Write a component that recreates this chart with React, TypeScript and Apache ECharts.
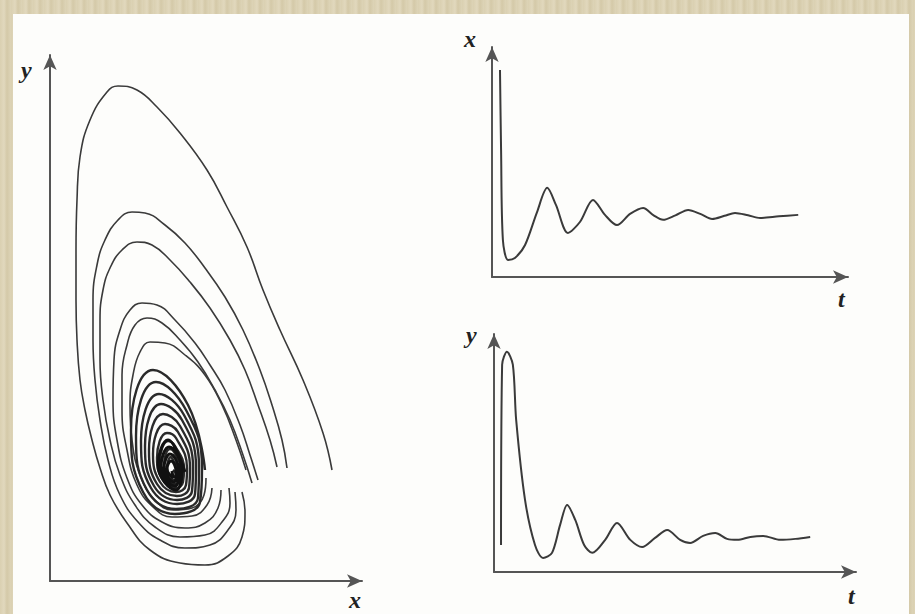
import React, { useEffect, useRef } from "react";
import * as echarts from "echarts";

// Phase portrait (prey x, predator y) — trajectories
const traj1: number[][] = [
  [28.2, 11.1], [27.3, 14.8], [25.3, 20.1], [23.0, 25.1], [21.3, 29.1], [19.7, 33.4],
  [17.7, 37.4], [15.7, 41.1], [13.0, 44.8], [10.7, 47.4], [8.7, 49.1], [6.8, 49.5],
  [5.7, 48.9], [4.0, 46.1], [3.0, 42.4], [2.7, 38.1], [2.6, 33.1], [2.6, 28.1],
  [2.7, 24.1], [3.0, 20.1], [3.5, 17.1], [4.2, 14.1], [5.0, 11.3], [6.0, 8.6],
  [7.7, 5.8], [10.0, 3.1], [13.0, 1.8], [15.5, 1.6], [17.8, 2.5], [19.2, 4.4],
  [19.5, 6.9], [19.2, 8.9],
];
const traj2: number[][] = [
  [23.7, 11.3], [23.2, 14.1], [22.2, 17.6], [21.0, 21.1], [19.3, 25.1], [17.5, 28.4],
  [15.5, 31.3], [13.5, 33.8], [11.5, 35.6], [9.5, 36.8], [8.2, 36.9], [6.8, 36.1],
  [5.5, 34.1], [4.7, 31.6], [4.3, 28.1], [4.3, 24.1], [4.5, 20.1], [5.0, 16.1],
  [5.8, 12.1], [7.0, 8.6], [8.8, 5.9], [11.0, 4.1], [13.5, 3.3], [16.0, 3.6],
  [17.8, 5.1], [18.6, 7.1], [18.5, 8.9],
];
const traj3: number[][] = [
  [22.7, 11.4], [22.0, 14.1], [20.8, 17.6], [19.5, 21.1], [18.0, 24.1], [16.0, 27.3],
  [14.0, 29.9], [12.0, 32.1], [10.2, 33.6], [8.7, 33.9], [7.2, 33.1], [6.0, 31.3],
  [5.3, 29.1], [5.0, 26.1], [5.0, 22.1], [5.3, 18.1], [6.0, 14.1], [7.0, 10.6],
  [8.5, 7.6], [10.5, 5.4], [13.0, 4.4], [15.5, 4.6], [17.2, 5.9], [18.0, 7.8],
  [17.9, 9.3],
];
const traj4: number[][] = [
  [20.8, 10.1], [20.0, 12.6], [19.0, 15.6], [17.5, 19.1], [16.0, 21.6], [14.5, 23.8],
  [12.5, 26.1], [10.7, 27.6], [9.2, 27.8], [8.0, 27.1], [7.0, 25.1], [6.4, 22.1],
  [6.3, 18.1], [6.7, 14.1], [7.7, 10.3], [9.2, 7.6], [11.2, 5.9], [13.5, 5.3],
  [15.5, 5.8], [16.8, 7.3], [17.1, 9.1],
];
const traj5: number[][] = [
  [20.2, 9.8], [19.3, 12.6], [18.0, 16.1], [16.5, 19.1], [14.8, 21.9], [13.0, 24.1],
  [11.2, 25.8], [9.7, 26.3], [8.5, 25.6], [7.7, 23.6], [7.2, 20.6], [7.2, 17.1],
  [7.7, 13.1], [8.7, 9.6], [10.3, 7.4], [12.2, 6.4], [14.2, 6.5], [15.7, 7.6],
  [16.2, 9.3],
];
const traj6: number[][] = [
  [19.6, 11.1], [18.6, 14.1], [17.2, 17.6], [15.5, 20.6], [13.5, 22.6], [11.5, 23.8],
  [10.0, 23.9], [9.0, 22.9], [8.3, 20.6], [8.0, 17.6], [8.2, 14.1], [9.0, 10.6],
  [10.5, 8.1], [12.3, 7.1], [14.2, 7.3], [15.4, 8.6], [15.6, 10.3],
];
const innerSpiral: number[][] = [
  [15.5, 11.1], [13.8, 17.6], [10.3, 21.1], [8.1, 15.1], [9.3, 8.9], [12.5, 6.7], [15.0, 7.9],
  [15.2, 11.3], [13.6, 17.1], [10.6, 19.9], [8.6, 14.5], [9.7, 9.1], [12.6, 7.2], [14.8, 8.3],
  [14.9, 11.4], [13.4, 16.6], [10.9, 18.7], [9.1, 14.0], [10.1, 9.3], [12.7, 7.7], [14.5, 8.7],
  [14.6, 11.4], [13.2, 16.1], [11.1, 17.7], [9.5, 13.5], [10.4, 9.5], [12.7, 8.1], [14.2, 9.0],
  [14.3, 11.4], [13.0, 15.5], [11.3, 16.7], [9.9, 13.1], [10.7, 9.7], [12.7, 8.5], [13.9, 9.3],
  [14.0, 11.3], [12.8, 14.9], [11.5, 15.7], [10.3, 12.7], [11.0, 9.9], [12.6, 8.9], [13.6, 9.6],
  [13.7, 11.3], [12.6, 14.3], [11.7, 14.8], [10.7, 12.3], [11.3, 10.1], [12.6, 9.3], [13.3, 9.9],
  [13.4, 11.2], [12.5, 13.5], [11.8, 14.0], [11.0, 11.9], [11.5, 10.3], [12.5, 9.7], [13.1, 10.2],
  [13.1, 11.2], [12.4, 12.9], [12.0, 13.2], [11.4, 11.6], [11.7, 10.5], [12.4, 10.1], [12.8, 10.5],
  [12.8, 11.1], [12.3, 12.1], [12.1, 12.4], [11.7, 11.3], [11.9, 10.7], [12.3, 10.4], [12.6, 10.7],
  [12.3, 11.1],
];
const coreSpiral: number[][] = [
  [13.5, 10.9], [11.8, 14.1], [10.8, 11.6], [12.6, 9.1],
  [13.2, 10.9], [11.9, 13.4], [11.1, 11.5], [12.5, 9.5],
  [12.9, 11.0], [12.0, 12.7], [11.4, 11.3], [12.4, 9.9],
  [12.6, 11.0], [12.1, 12.0], [11.7, 11.2], [12.3, 10.3],
  [12.2, 11.0],
];

// Time series x(t)
const tTop = [2.2, 2.5, 3.0, 4.4, 6.3, 9.1, 12.4, 15.2, 17.6, 20.9, 24.2, 27.8, 31.1, 34.4,
  38.0, 41.6, 44.5, 47.1, 50.5, 54.0, 57.5, 60.6, 64.0, 66.9, 70.5, 73.8, 79.0, 84.3];
const xTop = [87.3, 53.6, 15.6, 7.2, 8.0, 13.5, 27.4, 37.6, 30.4, 18.6, 23.2, 32.5, 26.2, 21.9,
  26.6, 29.1, 26.0, 24.1, 26.0, 28.3, 26.5, 24.5, 25.8, 27.0, 26.0, 24.9, 25.6, 26.2];

// Time series y(t)
const tBot = [1.9, 2.2, 3.5, 5.1, 6.0, 8.4, 11.1, 13.3, 15.7, 17.9, 19.8, 22.0, 24.4, 26.6, 30.1,
  33.3, 36.9, 40.1, 43.6, 46.9, 50.4, 53.1, 56.6, 59.9, 63.1, 65.9, 69.4, 72.9, 77.5, 81.6, 85.6];
const yBot = [11.0, 84.5, 89.8, 84.5, 62.0, 29.4, 11.0, 5.7, 7.8, 19.2, 27.3, 21.2, 11.0, 7.8, 13.1,
  20.0, 13.1, 10.2, 13.9, 17.1, 13.1, 11.8, 14.7, 15.9, 13.5, 13.1, 14.3, 14.7, 13.1, 13.5, 14.3];

const axisLabels = [
  { text: "y", left: 21, top: 58 },
  { text: "x", left: 349, top: 588 },
  { text: "x", left: 464, top: 27 },
  { text: "t", left: 838, top: 287 },
  { text: "y", left: 466, top: 323 },
  { text: "t", left: 848, top: 584 },
];

const LINE = "#3a3a3a";
const AXIS = "#555555";

function mkAxis(gridIndex: number, max: number) {
  return {
    type: "value" as const,
    gridIndex,
    min: 0,
    max,
    axisLine: {
      show: true,
      onZero: false,
      symbol: ["none", "arrow"],
      symbolSize: [10, 15],
      lineStyle: { color: AXIS, width: 2 },
    },
    axisTick: { show: false },
    axisLabel: { show: false },
    splitLine: { show: false },
  };
}

export default function App() {
  const ref = useRef<HTMLDivElement>(null);
  useEffect(() => {
    if (!ref.current) return;
    const chart = echarts.init(ref.current, undefined, { renderer: "svg" });
    const phaseLine = (data: number[][], width = 1.6, color = LINE) => ({
      type: "line",
      xAxisIndex: 0,
      yAxisIndex: 0,
      data,
      smooth: 0.45,
      showSymbol: false,
      lineStyle: { color, width },
    });
    chart.setOption({
      animation: false,
      grid: [
        { left: 50, top: 55, width: 312, height: 526 },
        { left: 492, top: 47, width: 356, height: 230 },
        { left: 494, top: 334, width: 362, height: 238 },
      ],
      xAxis: [mkAxis(0, 31.2), mkAxis(1, 98), mkAxis(2, 98)],
      yAxis: [mkAxis(0, 52.6), mkAxis(1, 97), mkAxis(2, 97)],
      series: [
        phaseLine(traj1),
        phaseLine(traj2),
        phaseLine(traj3),
        phaseLine(traj4),
        phaseLine(traj5),
        phaseLine(traj6),
        phaseLine(innerSpiral, 2.4, "#2a2a2a"),
        phaseLine(coreSpiral, 3, "#111"),
        {
          type: "line",
          xAxisIndex: 1,
          yAxisIndex: 1,
          data: tTop.map((t, i) => [t, xTop[i]]),
          smooth: 0.3,
          showSymbol: false,
          lineStyle: { color: LINE, width: 2 },
        },
        {
          type: "line",
          xAxisIndex: 2,
          yAxisIndex: 2,
          data: tBot.map((t, i) => [t, yBot[i]]),
          smooth: 0.3,
          showSymbol: false,
          lineStyle: { color: LINE, width: 2 },
        },
      ],
      graphic: axisLabels.map((l) => ({
        type: "text",
        left: l.left,
        top: l.top,
        style: {
          text: l.text,
          fill: "#222",
          font: "italic bold 24px 'Liberation Serif', 'DejaVu Serif', serif",
        },
      })),
    });
    return () => chart.dispose();
  }, []);

  return (
    <div
      style={{
        position: "fixed",
        left: 0,
        top: 0,
        width: 915,
        height: 614,
        background:
          "repeating-linear-gradient(90deg, #dad0b1 0px, #e1d8bd 4px, #d4c9a8 7px, #ddd4b7 11px)",
        overflow: "hidden",
      }}
    >
      <div
        style={{
          position: "absolute",
          left: 13,
          top: 14,
          right: 6,
          bottom: 0,
          background: "#fdfdfb",
        }}
      />
      <div ref={ref} style={{ position: "absolute", left: 0, top: 0, width: 915, height: 614 }} />
    </div>
  );
}
